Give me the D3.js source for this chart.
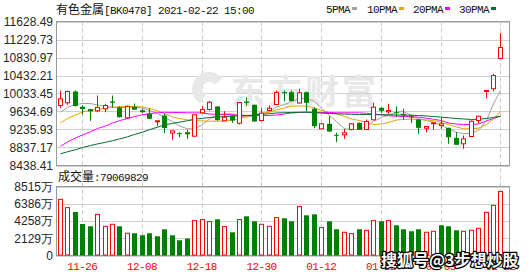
<!DOCTYPE html>
<html>
<head>
<meta charset="utf-8">
<script src="https://cdn.jsdelivr.net/npm/d3@7"></script>
<style>
  body { margin: 0; background: #fff; }
  svg { display: block; }
</style>
</head>
<body>
<div id="chart"></div>
<script>
// trading days shown (2020-11-23 .. 2021-02-22)
const dates = ["11-23","11-24","11-25","11-26","11-27","11-30","12-01","12-02","12-03","12-04",
  "12-07","12-08","12-09","12-10","12-11","12-14","12-15","12-16","12-17","12-18",
  "12-21","12-22","12-23","12-24","12-25","12-28","12-29","12-30","12-31","01-04",
  "01-05","01-06","01-07","01-08","01-11","01-12","01-13","01-14","01-15","01-18",
  "01-19","01-20","01-21","01-22","01-25","01-26","01-27","01-28","01-29","02-01",
  "02-02","02-03","02-04","02-05","02-08","02-09","02-10","02-18","02-19","02-22"];

const opens = [9767.6,9827.4,10077.8,9738.8,9685.7,9650.3,9694.5,9856.2,9723.3,9495.1,
  9741.0,9663.5,9583.2,9413.1,9546.1,9158.4,9154.0,9176.1,9087.5,9605.9,
  9678.5,9745.5,9428.7,9546.1,9375.5,9856.2,9783.1,9435.3,9656.9,9789.8,
  10062.3,10062.3,9823.0,10062.3,9694.5,9251.4,9362.2,9118.5,9118.5,9235.9,
  9384.4,9235.9,9450.8,9716.7,9628.2,9619.3,9583.2,9524.0,9457.4,9264.7,
  9362.2,9324.7,9273.7,9051.9,8919.2,9080.9,9435.3,10077.8,10137.6,10808.8];

const highs = [10099.9,10099.9,10099.9,9778.7,9694.5,9989.2,9805.3,9989.2,9752.1,9767.6,
  9811.9,9694.5,9701.1,9428.7,9590.5,9207.2,9176.1,9229.3,9568.3,9752.1,
  9862.9,9756.6,9641.4,9546.1,9834.0,9944.9,9789.8,9707.8,9767.6,10099.9,
  10099.9,10099.9,10137.6,10077.8,9730.0,9362.2,9530.6,9162.9,9251.4,9380.0,
  9390.0,9457.4,9827.4,9730.0,9805.3,9745.5,9694.5,9568.3,9464.0,9302.4,
  9391.0,9508.5,9273.7,9176.1,9103.0,9435.3,9539.5,10099.9,10470.0,11369.3];

const lows = [9707.8,9783.1,9745.5,9563.8,9428.7,9619.3,9619.3,9716.7,9501.8,9473.0,
  9668.0,9601.5,9468.6,9309.0,9158.4,9007.9,9065.1,9027.4,9080.9,9600.0,
  9656.9,9435.3,9424.2,9384.4,9346.7,9767.6,9406.5,9428.7,9650.3,9783.0,
  9856.2,9856.0,9811.9,9641.4,9264.7,9251.4,9185.0,8954.6,9027.4,9213.8,
  9225.0,9230.0,9440.0,9605.9,9583.2,9508.5,9450.8,9375.5,9140.7,9176.1,
  9229.3,9251.4,8919.2,8897.0,8808.4,9080.9,9375.5,9929.4,10084.5,10808.8];

const closes = [9916.1,10077.8,9756.6,9690.1,9639.2,9723.3,9767.6,9827.4,9508.5,9749.9,
  9674.6,9619.3,9473.0,9428.7,9269.2,9207.2,9140.0,9130.0,9561.7,9678.5,
  9840.7,9441.9,9508.5,9435.3,9834.0,9825.0,9413.1,9597.1,9707.8,10058.0,
  10045.0,9867.3,10049.0,9827.4,9309.0,9362.2,9191.7,9103.0,9162.9,9362.2,
  9229.3,9413.1,9730.0,9650.3,9656.9,9605.9,9552.2,9501.8,9273.7,9302.4,
  9384.4,9362.2,9065.1,8897.0,9027.4,9419.8,9530.6,10099.9,10432.3,11052.5];

// volume in 万
const volumes = [6928,5906,5365,3888,3605,5082,3605,3852,3605,2744,
  2744,2498,2744,2375,3236,2498,1883,2092,4307,4430,
  4184,4467,3568,2867,4430,4836,4221,3852,3605,4676,
  4590,4221,6029,4959,5082,3445,4221,3236,2867,2707,
  3236,3113,4307,4221,4307,3728,3236,2990,3236,2867,
  2990,3728,3605,3113,2990,3113,3359,5328,6189,7907];
const lastVolume = 79069829;

const ma5 = [9619,9723,9790,9812,9812,9779,9746,9730,9723,9723,
  9730,9712,9657,9590,9502,9413,9314,9252,9252,9340,
  9473,9562,9584,9584,9531,9509,9546,9584,9635,9734,
  9790,9856,9916,9929,9856,9708,9546,9413,9252,9236,
  9236,9309,9413,9502,9557,9619,9635,9546,9473,9435,
  9398,9325,9252,9176,9141,9154,9214,9435,9805,10100];

const ma10 = [9384,9480,9557,9624,9657,9686,9708,9728,9741,9746,
  9746,9734,9701,9650,9590,9513,9480,9451,9435,9424,
  9420,9420,9420,9446,9473,9524,9568,9595,9619,9668,
  9712,9752,9757,9752,9712,9657,9613,9584,9524,9469,
  9435,9391,9347,9358,9391,9446,9458,9464,9458,9446,
  9435,9391,9347,9291,9252,9252,9265,9347,9469,9641];

const ma20 = [8866,8959,9048,9114,9185,9258,9314,9380,9431,9480,
  9524,9562,9590,9606,9617,9613,9613,9606,9606,9602,
  9579,9573,9568,9562,9557,9546,9546,9546,9546,9557,
  9579,9602,9613,9619,9619,9613,9613,9606,9606,9606,
  9606,9595,9584,9562,9540,9531,9524,9517,9509,9486,
  9464,9435,9380,9358,9347,9347,9358,9424,9480,9531];

const ma30 = [8698,8742,8788,8837,8882,8917,8952,8988,9026,9074,
  9125,9176,9232,9287,9340,9369,9398,9431,9464,9484,
  9502,9513,9522,9531,9540,9546,9557,9573,9586,9602,
  9608,9613,9617,9619,9608,9599,9590,9584,9579,9573,
  9568,9568,9564,9562,9562,9557,9553,9551,9546,9535,
  9524,9509,9495,9480,9469,9458,9464,9480,9502,9531];

const priceTicks = [8438.41,8837.17,9235.93,9634.69,10033.45,10432.21,10830.97,11229.73,11628.49];
const volTicks = [0,2129,4258,6386,8515];
const dateTicks = ["11-26","12-08","12-18","12-30","01-12","01-22","02-03","02-22"];
const maNames = ["5PMA","10PMA","20PMA","30PMA"];
const maColors = ["#a0a0a0","#f0a000","#ff00ff","#006f30"];

const W = 530, H = 276;
const left = 56.5, right = 509.5;
const mainTop = 21.5, mainBottom = 165.5;
const volTop = 186.5, volBottom = 255.5;
const RED = "#ff0000", GREEN = "#008000";
const mono = "'Liberation Mono', monospace";
const cjk = "'Noto Sans CJK SC', sans-serif";

const days = dates.map((d, i) => ({
  date: d, open: opens[i], high: highs[i], low: lows[i], close: closes[i], vol: volumes[i],
  up: closes[i] >= opens[i],
  volUp: i === 0 ? closes[i] >= opens[i] : closes[i] >= closes[i - 1]
}));

const x = d3.scaleBand().domain(dates).range([56, 56 + dates.length * 7.47]);
const cx = d => Math.round(x(d) + x.bandwidth() / 2) + 0.5;

const y = d3.scaleLinear().domain([priceTicks[0], priceTicks[priceTicks.length - 1]]).range([mainBottom, mainTop]);
const yv = d3.scaleLinear().domain([0, volTicks[volTicks.length - 1]]).range([volBottom, volTop]);

const svg = d3.select("#chart").append("svg").attr("width", W).attr("height", H);

// grid
const grid = svg.append("g");
grid.selectAll(".hp").data(priceTicks).enter().append("line")
  .attr("x1", left).attr("x2", right)
  .attr("y1", d => Math.round(y(d)) + 0.5).attr("y2", d => Math.round(y(d)) + 0.5)
  .attr("stroke", "#d0d0d0");
grid.selectAll(".hv").data(volTicks).enter().append("line")
  .attr("x1", left).attr("x2", right)
  .attr("y1", d => Math.round(yv(d)) + 0.5).attr("y2", d => Math.round(yv(d)) + 0.5)
  .attr("stroke", "#d0d0d0");
grid.selectAll(".vd").data(dateTicks).enter().append("line")
  .attr("x1", d => cx(d)).attr("x2", d => cx(d))
  .attr("y1", mainTop).attr("y2", volBottom)
  .attr("stroke", "#c8c8c8").attr("stroke-dasharray", "4,3");

// watermark
const wm = svg.append("g").attr("fill", "#e8e8e8");
wm.append("path").attr("transform", "translate(209,89)")
  .attr("d", d3.arc().innerRadius(7).outerRadius(17).startAngle(-2.6).endAngle(0.9)());
wm.append("text").attr("x", 231).attr("y", 104)
  .attr("font-family", cjk).attr("font-size", 34).attr("font-weight", "bold")
  .attr("letter-spacing", 3).text("东方财富");

// frames
const frame = svg.append("g").attr("fill", "none").attr("stroke", "#9a9a9a");
frame.append("rect").attr("x", left).attr("y", mainTop).attr("width", right - left).attr("height", mainBottom - mainTop);
frame.append("rect").attr("x", left).attr("y", volTop).attr("width", right - left).attr("height", volBottom - volTop);

// moving averages
const line = d3.line().x((d, i) => cx(dates[i])).y(d => y(d));
[ma5, ma10, ma20, ma30].forEach((s, k) => {
  svg.append("path").datum(s).attr("d", line)
    .attr("fill", "none").attr("stroke", maColors[k]).attr("stroke-width", 1);
});

// candles
const candle = svg.append("g").selectAll("g").data(days).enter().append("g");
candle.append("line")
  .attr("x1", d => cx(d.date)).attr("x2", d => cx(d.date))
  .attr("y1", d => y(d.high)).attr("y2", d => y(d.low))
  .attr("stroke", d => d.up ? RED : GREEN);
candle.append("rect")
  .attr("x", d => d.up ? cx(d.date) - 2 : cx(d.date) - 2.5)
  .attr("width", d => d.up ? 4 : 5)
  .attr("y", d => y(Math.max(d.open, d.close)))
  .attr("height", d => Math.max(1, Math.abs(y(d.open) - y(d.close))))
  .attr("fill", d => d.up ? "#fff" : GREEN)
  .attr("stroke", d => d.up ? RED : "none");

// volume bars
svg.append("g").selectAll("rect").data(days).enter().append("rect")
  .attr("x", d => d.volUp ? cx(d.date) - 2 : cx(d.date) - 2.5)
  .attr("width", d => d.volUp ? 4 : 5)
  .attr("y", d => yv(d.vol))
  .attr("height", d => yv(0) - yv(d.vol) - (d.volUp ? 0.5 : 0))
  .attr("fill", d => d.volUp ? "#fff" : GREEN)
  .attr("stroke", d => d.volUp ? RED : "none");

// axes
const yAxis = svg.append("g").attr("transform", "translate(56,0)")
  .call(d3.axisLeft(y).tickValues(priceTicks).tickFormat(d3.format(".2f")).tickSize(0).tickPadding(3));
const vAxis = svg.append("g").attr("transform", "translate(56,0)")
  .call(d3.axisLeft(yv).tickValues(volTicks).tickFormat(d => d === 0 ? "0" : d + "万").tickSize(0).tickPadding(3));
[yAxis, vAxis].forEach(g => {
  g.select(".domain").remove();
  g.selectAll("text").attr("font-family", "'Liberation Sans', Arial, sans-serif")
    .attr("font-size", 12).attr("fill", "#262626");
});

const xAxis = svg.append("g").attr("transform", `translate(0,${volBottom})`)
  .call(d3.axisBottom(x).tickValues(dateTicks).tickSize(0).tickPadding(7));
xAxis.select(".domain").remove();
xAxis.selectAll("text").attr("font-family", mono).attr("font-size", 11)
  .attr("letter-spacing", -0.6).attr("fill", RED);

// title
const title = svg.append("text").attr("x", 56).attr("y", 13.5).attr("fill", "#111");
title.append("tspan").attr("font-family", cjk).attr("font-size", 12).text("有色金属");
title.append("tspan").attr("font-family", mono).attr("font-size", 11).attr("letter-spacing", -0.6)
  .text("[BK0478] 2021-02-22 15:00");

// legend
const lx = [326, 367, 413, 459];
maNames.forEach((n, k) => {
  const t = svg.append("text").attr("x", lx[k]).attr("y", 13).attr("fill", "#111")
    .attr("font-family", mono).attr("font-size", 11).attr("letter-spacing", -0.6).text(n);
  const w = t.node().getComputedTextLength();
  svg.append("rect").attr("x", lx[k] + w + 2).attr("y", 7).attr("width", 5).attr("height", 3)
    .attr("fill", maColors[k]);
});

// volume caption
const cap = svg.append("text").attr("x", 58).attr("y", 180.5).attr("fill", "#111");
cap.append("tspan").attr("font-family", cjk).attr("font-size", 12).text("成交量");
cap.append("tspan").attr("font-family", mono).attr("font-size", 11).attr("letter-spacing", -0.6)
  .text(":" + lastVolume);

// source watermark (overlaps the axis labels, as in the original)
svg.append("text").attr("x", 381).attr("y", 266)
  .attr("font-family", cjk).attr("font-size", 16).attr("font-weight", "bold")
  .attr("fill", "#fff").attr("stroke", "#000").attr("stroke-width", 2.5)
  .attr("paint-order", "stroke").attr("stroke-linejoin", "round")
  .text("搜狐号@3步想炒股");
</script>
</body>
</html>
